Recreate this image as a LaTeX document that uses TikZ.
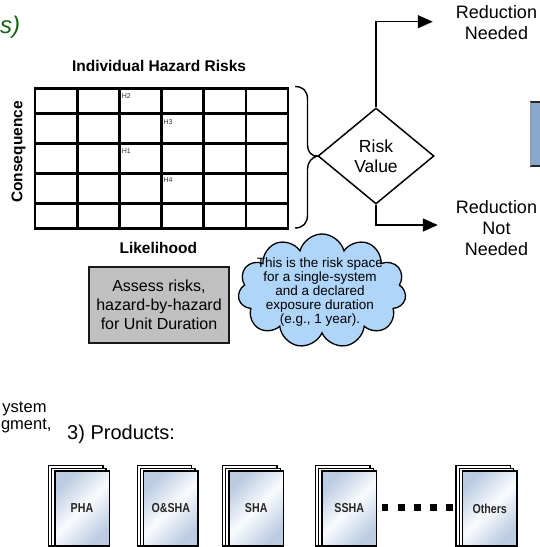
\documentclass[tikz,border=0pt]{standalone}
\usepackage{fontspec}
\setmainfont{Liberation Sans}
\newfontfamily\pagefont[FakeStretch=0.82]{Liberation Sans}
\usetikzlibrary{shapes.geometric,shapes.symbols,arrows.meta}
\definecolor{titlegreen}{RGB}{22,98,22}
\definecolor{boxgray}{RGB}{192,192,192}
\definecolor{cloudblue}{RGB}{175,214,250}
\definecolor{sideblue}{RGB}{138,168,204}
\definecolor{pageblue}{RGB}{186,203,226}
\newcommand\docstack[3]{%
  \draw[backpage] ({#2-27.25-6.4},{471-5.6}) rectangle ({#2+27.25-6.4},546);
  \draw[backpage] ({#2-27.25-3.2},{471-2.8}) rectangle ({#2+27.25-3.2},546);
  \node[page] (#1) at (#2,508.5) {#3};}
\begin{document}
\begin{tikzpicture}[x=1pt,y=-1pt,
  gridline/.style={line width=2.7pt,black},
  lbl/.style={font=\fontsize{15.5}{18}\selectfont\bfseries,inner sep=0pt},
  hz/.style={font=\fontsize{7}{8}\selectfont,inner sep=0pt,anchor=base west,text=black!80},
  assess/.style={draw=black!90,line width=2pt,fill=boxgray,minimum width=140pt,minimum height=76pt,
    align=center,font=\fontsize{16}{19}\selectfont,inner sep=0pt},
  decision/.style={diamond,draw,line width=1.5pt,minimum width=116pt,minimum height=96pt,
    inner sep=0pt,align=center,font=\fontsize{17.5}{20}\selectfont},
  outcome/.style={align=center,font=\fontsize{18}{21}\selectfont,inner sep=0pt},
  arr/.style={line width=1.5pt,-{Triangle[length=15pt,width=13pt]}},
  cloudnote/.style={cloud,cloud puffs=11,cloud ignores aspect,draw,line width=1.3pt,fill=cloudblue,
    minimum width=168pt,minimum height=114pt,inner sep=0pt},
  cloudtext/.style={align=center,font=\fontsize{13.5}{14}\selectfont,inner sep=0pt},
  plain/.style={inner sep=0pt},
  page/.style={draw,line width=1.5pt,outer sep=0pt,minimum width=54.5pt,minimum height=75pt,inner sep=0pt,
    font=\pagefont\bfseries\fontsize{13}{14}\selectfont,text=black!85,
    top color=pageblue,bottom color=pageblue,middle color=white!92!pageblue,shading angle=45},
  backpage/.style={draw,line width=1.3pt,fill=white},
  squaredots/.style={line width=6.7pt,dash pattern=on 6.7pt off 9.4pt}
]
\useasboundingbox (0,0) rectangle (539,547);

% title fragment
\node[plain,anchor=base west,text=titlegreen,font=\fontsize{24}{28}\selectfont\itshape] (ttl) at (0,33) {s)};

% risk matrix
\node[lbl,anchor=base] (ihr) at (159,71) {Individual Hazard Risks};
\foreach \i in {1,...,5} \draw[gridline] ({35+\i*42.17},88.3) -- ({35+\i*42.17},228.3);
\foreach \y in {113.3,143.3,173.3,203.3} \draw[gridline] (35,\y) -- (288,\y);
\draw[gridline] (35,88.3) rectangle (288,228.3);
\node[hz] (h2) at (121.7,98.3) {H2};
\node[hz] (h3) at (163.3,124.3) {H3};
\node[hz] (h1) at (121.7,153.7) {H1};
\node[hz] (h4) at (163.3,182.7) {H4};
\node[lbl,rotate=90] (cons) at (18.5,152) {Consequence};
\node[lbl,anchor=base] (lik) at (158.3,253.3) {Likelihood};

% decision
\node[decision] (rv) at (376,156) {Risk\\Value};
\draw[line width=1.4pt] (295,86.5) .. controls (303,86.5) and (307.5,91) .. (307.5,99)
  -- (307.5,145) .. controls (307.5,152) and (312,156.5) .. (rv.west)
  .. controls (312,157.5) and (307.5,162) .. (307.5,169)
  -- (307.5,215) .. controls (307.5,223) and (303,228) .. (295,228);
\node[outcome] (rn) at (496.5,22.5) {Reduction\\Needed};
\node[outcome] (rnn) at (496.5,228) {Reduction\\Not\\Needed};
\draw[arr] (rv.north) |- ([xshift=-23pt,yshift=0.8pt]rn.west);
\draw[arr] (rv.south) |- ([xshift=-18pt,yshift=3pt]rnn.west);

% right edge box (cut off)
\fill[sideblue] (530,102) rectangle (541,166);
\draw[line width=2pt,black!85] (530,102) -- (541,102) (530,166) -- (541,166);
\draw[line width=0.8pt,black!40] (530.4,102) -- (530.4,166);

% assess box and cloud
\node[assess] (asb) at (159,305) {Assess risks,\\hazard-by-hazard\\for Unit Duration};
\node[cloudnote] (cl) at (322,291) {};
\node[cloudtext] (clt) at (320,292.5) {This is the risk space\\for a single-system\\and a declared\\exposure duration\\(e.g., 1 year).};

% lower texts
\node[plain,anchor=base east,font=\fontsize{16.5}{18}\selectfont] (ys) at (46.7,412) {ystem};
\node[plain,anchor=base east,font=\fontsize{16.5}{18}\selectfont] (gm) at (51.7,429.3) {gment,};
\node[plain,anchor=base west,font=\fontsize{20}{24}\selectfont] (prod) at (67,439.5) {3) Products:};

% product stacks
\docstack{pha}{82}{PHA}
\docstack{osha}{170.8}{O\&SHA}
\docstack{sha}{256.2}{SHA}
\docstack{ssha}{349.2}{SSHA}
\docstack{oth}{489.7}{Others}
\draw[squaredots] ([xshift=5.25pt,yshift=1pt]ssha.east) -- ([xshift=-9.75pt,yshift=1pt]oth.west);
\end{tikzpicture}
\end{document}
